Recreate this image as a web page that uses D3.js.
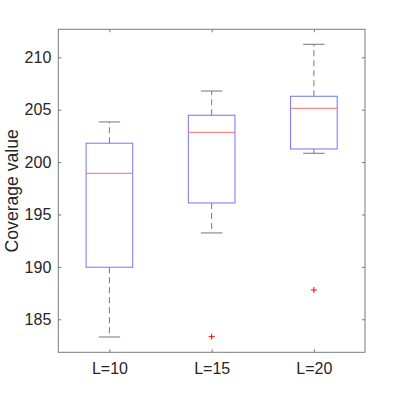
<!doctype html>
<html lang="en">
<head>
<meta charset="utf-8">
<title>coverage boxplot</title>
<script src="https://d3js.org/d3.v7.min.js"></script>
<style>
  body { margin: 0; background: #fff; }
  text { font-family: "Liberation Sans", Arial, sans-serif; fill: #262626; }
</style>
</head>
<body>
<div id="chart"></div>
<script>
// box statistics
var categories = ["L=10", "L=15", "L=20"];
var q1 = [189.97, 196.1, 201.25];
var medians = [198.93, 202.84, 205.13];
var q3 = [201.8, 204.47, 206.28];
var whiskerLow = [183.31, 193.24, 200.84];
var whiskerHigh = [203.83, 206.78, 211.24];
var outliers = [[], [183.34], [187.8]];
var yTicks = [185, 190, 195, 200, 205, 210];
var yLimits = [181.85, 212.67];

var width = 403, height = 396;
var plotLeft = 58.3, plotRight = 365, plotTop = 29.3, plotBottom = 352.3;

var svg = d3.select("#chart").append("svg")
  .attr("width", width)
  .attr("height", height);

var x = d3.scaleLinear().domain([0.5, categories.length + 0.5]).range([plotLeft, plotRight]);
var y = d3.scaleLinear().domain(yLimits).range([plotBottom, plotTop]);

var boxes = categories.map(function (c, i) {
  return { name: c, pos: i + 1, q1: q1[i], med: medians[i], q3: q3[i],
           lo: whiskerLow[i], hi: whiskerHigh[i], out: outliers[i] };
});

var boxHalf = 0.228, capHalf = 0.105;

// axes frame (box on)
var axisColor = "#7a7a7a";
svg.append("rect")
  .attr("x", plotLeft).attr("y", plotTop)
  .attr("width", plotRight - plotLeft).attr("height", plotBottom - plotTop)
  .attr("fill", "none").attr("stroke", axisColor).attr("stroke-width", 1);

// ticks inside on all four sides
var yAxisL = d3.axisLeft(y).tickValues(yTicks).tickSizeInner(-3).tickSizeOuter(0).tickPadding(7);
var gL = svg.append("g").attr("transform", "translate(" + plotLeft + ",0)").call(yAxisL);
var yAxisR = d3.axisRight(y).tickValues(yTicks).tickSizeInner(-3).tickSizeOuter(0).tickFormat("");
var gR = svg.append("g").attr("transform", "translate(" + plotRight + ",0)").call(yAxisR);
var xAxisB = d3.axisBottom(x).tickValues([1, 2, 3]).tickSizeInner(-3).tickSizeOuter(0).tickPadding(10)
  .tickFormat(function (d) { return categories[d - 1]; });
var gB = svg.append("g").attr("transform", "translate(0," + plotBottom + ")").call(xAxisB);
var xAxisT = d3.axisTop(x).tickValues([1, 2, 3]).tickSizeInner(-3).tickSizeOuter(0).tickFormat("");
var gT = svg.append("g").attr("transform", "translate(0," + plotTop + ")").call(xAxisT);

[gL, gR, gB, gT].forEach(function (g) {
  g.select(".domain").remove();
  g.selectAll(".tick line").attr("stroke", axisColor);
  g.selectAll("text").style("font-size", "16px").attr("fill", "#262626")
    .style("font-family", "'Liberation Sans', Arial, sans-serif");
});

// y label
svg.append("text")
  .attr("transform", "translate(18," + ((plotTop + plotBottom) / 2) + ") rotate(-90)")
  .attr("text-anchor", "middle")
  .style("font-size", "17.6px")
  .text("Coverage value");

var g = svg.append("g");

// whiskers (dashed)
g.selectAll(".whisk-hi").data(boxes).enter().append("line")
  .attr("x1", function (d) { return x(d.pos); }).attr("x2", function (d) { return x(d.pos); })
  .attr("y1", function (d) { return y(d.q3); }).attr("y2", function (d) { return y(d.hi); })
  .attr("stroke", "#777").attr("stroke-dasharray", "6,4");
g.selectAll(".whisk-lo").data(boxes).enter().append("line")
  .attr("x1", function (d) { return x(d.pos); }).attr("x2", function (d) { return x(d.pos); })
  .attr("y1", function (d) { return y(d.q1); }).attr("y2", function (d) { return y(d.lo); })
  .attr("stroke", "#777").attr("stroke-dasharray", "6,4");

// caps
["hi", "lo"].forEach(function (k) {
  g.selectAll(".cap-" + k).data(boxes).enter().append("line")
    .attr("x1", function (d) { return x(d.pos - capHalf); })
    .attr("x2", function (d) { return x(d.pos + capHalf); })
    .attr("y1", function (d) { return y(d[k]); })
    .attr("y2", function (d) { return y(d[k]); })
    .attr("stroke", "#777");
});

// boxes
g.selectAll(".box").data(boxes).enter().append("rect")
  .attr("x", function (d) { return x(d.pos - boxHalf); })
  .attr("width", function (d) { return x(d.pos + boxHalf) - x(d.pos - boxHalf); })
  .attr("y", function (d) { return y(d.q3); })
  .attr("height", function (d) { return y(d.q1) - y(d.q3); })
  .attr("fill", "none").attr("stroke", "#7373ff").attr("stroke-width", 1);

// medians
g.selectAll(".med").data(boxes).enter().append("line")
  .attr("x1", function (d) { return x(d.pos - boxHalf); })
  .attr("x2", function (d) { return x(d.pos + boxHalf); })
  .attr("y1", function (d) { return y(d.med); })
  .attr("y2", function (d) { return y(d.med); })
  .attr("stroke", "#ff6b6b").attr("stroke-width", 1);

// outliers as red +
var pts = [];
boxes.forEach(function (b) { b.out.forEach(function (v) { pts.push({ pos: b.pos, v: v }); }); });
g.selectAll(".out").data(pts).enter().append("path")
  .attr("d", function (d) {
    var cx = x(d.pos), cy = y(d.v), s = 3;
    return "M" + (cx - s) + "," + cy + "H" + (cx + s) + "M" + cx + "," + (cy - s) + "V" + (cy + s);
  })
  .attr("stroke", "#ff0000").attr("stroke-width", 1);
</script>
</body>
</html>
